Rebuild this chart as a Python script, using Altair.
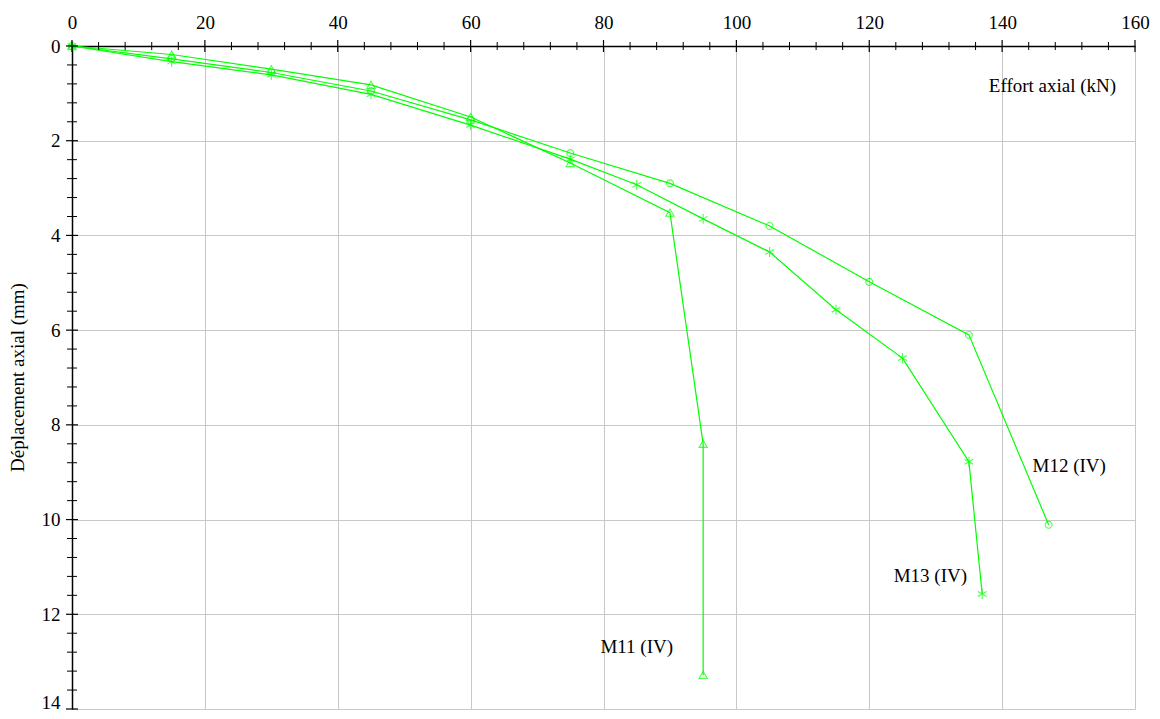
import altair as alt
import pandas as pd

# ---- data ----
m11_x = [0, 15, 30, 45, 60, 75, 90, 95, 95]
m11_y = [0, 0.18, 0.49, 0.82, 1.50, 2.47, 3.52, 8.40, 13.28]
m12_x = [0, 15, 30, 45, 60, 75, 90, 105, 120, 135, 147]
m12_y = [0, 0.27, 0.56, 0.95, 1.56, 2.26, 2.90, 3.80, 4.98, 6.10, 10.11]
m13_x = [0, 15, 30, 45, 60, 75, 85, 95, 105, 115, 125, 135, 137]
m13_y = [0, 0.33, 0.61, 1.02, 1.67, 2.39, 2.93, 3.65, 4.35, 5.57, 6.59, 8.78, 11.57]

series_names = ["M11 (IV)", "M12 (IV)", "M13 (IV)"]
label_x = [85.0, 150.1, 129.2]
label_y = [12.70, 8.87, 11.19]

x_major = [0, 20, 40, 60, 80, 100, 120, 140, 160]
x_minor = [v for v in range(0, 161, 4) if v % 20 != 0]
y_major = [0, 2, 4, 6, 8, 10, 12, 14]
y_minor = [round(i * 0.4, 1) for i in range(0, 36) if i % 5 != 0]

rows = []
for name, xs_, ys_ in zip(series_names, [m11_x, m12_x, m13_x], [m11_y, m12_y, m13_y]):
    for i, (a, b) in enumerate(zip(xs_, ys_)):
        rows.append({"serie": name, "x": a, "y": b, "i": i})
df = pd.DataFrame(rows)
labels = pd.DataFrame({"serie": series_names, "x": label_x, "y": label_y})

FONT = "Liberation Serif"
GREEN = "#00ff00"

xs = alt.Scale(domain=[0, 160], nice=False, zero=False)
ys = alt.Scale(domain=[0, 14], nice=False, zero=False, reverse=True)

XAX = alt.Axis(
    orient="top", values=x_major, grid=True, gridColor="#c8c8c8", gridWidth=1,
    ticks=False, tickSize=0, labelPadding=14, labelFont=FONT, labelFontSize=19,
    labelColor="black", labelFontWeight="normal", labelOverlap=False, labelFlush=False, labelBound=False,
    domainColor="black", domainWidth=1.5,
    title="Effort axial (kN)", titleFont=FONT, titleFontSize=19, titleFontWeight="normal",
    titleColor="black", titleX=980, titleY=39, titleAlign="center", titleBaseline="middle",
    titleAngle=0)
YAX = alt.Axis(
    orient="left", values=y_major, grid=True, gridColor="#c8c8c8", gridWidth=1,
    ticks=False, tickSize=0, labelPadding=12, labelFont=FONT, labelFontSize=19,
    labelColor="black", labelOverlap=False, labelFlush=False, labelBound=False,
    labelOffset={"condition": {"test": "datum.value == 14", "value": -7}, "value": 0},
    domainColor="black", domainWidth=1.5,
    title="Déplacement axial (mm)", titleFont=FONT, titleFontSize=19, titleFontWeight="normal",
    titleColor="black", titleX=-49, titleY=331, titleAlign="center", titleBaseline="alphabetic",
    titleAngle=-90)

asterisk = "M0,-2L0,2M-1.73,-1L1.73,1M-1.73,1L1.73,-1"

base = alt.Chart(df)

lines = base.mark_line(color=GREEN, strokeWidth=1.2).encode(
    x=alt.X("x:Q", scale=xs, axis=XAX),
    y=alt.Y("y:Q", scale=ys, axis=YAX),
    detail="serie:N",
    order="i:Q",
)

points = base.mark_point(filled=False, color=GREEN, strokeWidth=1.1).encode(
    x=alt.X("x:Q", scale=xs, axis=XAX),
    y=alt.Y("y:Q", scale=ys, axis=YAX),
    shape=alt.Shape("serie:N", scale=alt.Scale(domain=series_names,
                                                range=["triangle-up", "circle", asterisk]), legend=None),
    size=alt.Size("serie:N", scale=alt.Scale(domain=series_names, range=[70, 25, 22]), legend=None),
)

texts = alt.Chart(labels).mark_text(font=FONT, fontSize=19, color="black", align="center",
                                    baseline="middle").encode(
    x=alt.X("x:Q", scale=xs, axis=XAX),
    y=alt.Y("y:Q", scale=ys, axis=YAX),
    text="serie:N",
)

xmaj = alt.Chart(pd.DataFrame({"x": x_major})).mark_rule(color="black", strokeWidth=1.2).encode(
    x=alt.X("x:Q", scale=xs, axis=XAX), y=alt.value(-6), y2=alt.value(6))
xmin = alt.Chart(pd.DataFrame({"x": x_minor})).mark_rule(color="black", strokeWidth=1).encode(
    x=alt.X("x:Q", scale=xs, axis=XAX), y=alt.value(-4), y2=alt.value(4))
ymaj = alt.Chart(pd.DataFrame({"y": y_major})).mark_rule(color="black", strokeWidth=1.2).encode(
    y=alt.Y("y:Q", scale=ys, axis=YAX), x=alt.value(-6), x2=alt.value(6))
ymin = alt.Chart(pd.DataFrame({"y": y_minor})).mark_rule(color="black", strokeWidth=1).encode(
    y=alt.Y("y:Q", scale=ys, axis=YAX), x=alt.value(-5), x2=alt.value(5))

chart = alt.layer(lines, points, texts, xmaj, xmin, ymaj, ymin).properties(
    width=1063, height=663,
    padding={"left": 64, "top": 38, "right": 17, "bottom": 2},
    autosize="none",
).configure_view(stroke="#888888", strokeWidth=2).configure(background="white")

chart.save("out.html", embed_options={"renderer": "svg", "actions": False})
